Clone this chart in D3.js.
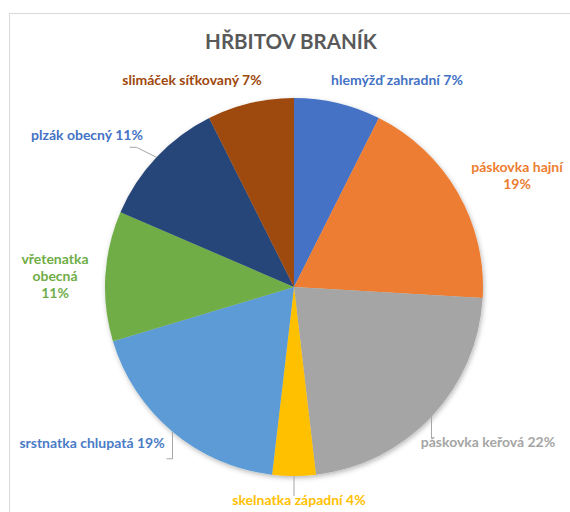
<!DOCTYPE html>
<html>
<head>
<meta charset="utf-8">
<script src="https://cdn.jsdelivr.net/npm/d3@7"></script>
<style>
  html, body { margin: 0; padding: 0; background: #fff; }
  svg { display: block; }
</style>
</head>
<body>
<script>
// Snail species found at the cemetery (counts of finds)
const species = [
  "hlemýžď zahradní",
  "páskovka hajní",
  "páskovka keřová",
  "skelnatka západní",
  "srstnatka chlupatá",
  "vřetenatka obecná",
  "plzák obecný",
  "slimáček síťkovaný"
];
const counts = [2, 5, 6, 1, 5, 3, 3, 2];
const sliceColors = ["#4472C4", "#ED7D31", "#A5A5A5", "#FFC000", "#5B9BD5", "#70AD47", "#264478", "#9E480E"];
const labelColors = ["#4472C4", "#ED7D31", "#A5A5A5", "#FFC000", "#4A7CC6", "#70AD47", "#4472C4", "#9E480E"];

// Label layout: lines of text per label ("{p}" = percentage), anchor offset from pie centre,
// and an optional leader polyline ending at the label.
const labelLines = [
  ["{n} {p}"], ["{n}", "{p}"], ["{n} {p}"], ["{n} {p}"],
  ["{n} {p}"], ["vřetenatka", "obecná", "{p}"], ["{n} {p}"], ["{n} {p}"]
];
const labelOffsets = [[103, -207], [223, -112], [194, 155], [5, 213], [-202, 156], [-239, -11], [-207, -152], [-102, -207]];
const leaderEnds = [null, null, [[0, 22]], [[0, 20]], [[0, 27], [-6, 27]], null, [[-20, -10], [-27, -10]], null];

const W = 570, H = 512;
const cx = 294, cy = 287, R = 189;

const svg = d3.select("body").append("svg").attr("width", W).attr("height", H);

// soft shadow beneath the pie
const defs = svg.append("defs");
const f = defs.append("filter").attr("id", "shadow").attr("x", "-10%").attr("y", "-10%").attr("width", "120%").attr("height", "120%");
f.append("feDropShadow").attr("dx", 1).attr("dy", 2).attr("stdDeviation", 2.5)
  .attr("flood-color", "#000").attr("flood-opacity", 0.28);

// chart area frame
svg.append("rect").attr("x", 9.5).attr("y", 13.5).attr("width", 600).attr("height", 600)
  .attr("fill", "#fff").attr("stroke", "#d9d9d9").attr("stroke-width", 1);

svg.append("text")
  .attr("x", 291).attr("y", 49)
  .attr("text-anchor", "middle")
  .attr("font-family", "Lato, 'Open Sans', sans-serif")
  .attr("font-weight", 700).attr("font-size", 20.5)
  .attr("fill", "#595959")
  .text("HŘBITOV BRANÍK");

const total = d3.sum(counts);
const pie = d3.pie().sort(null).value(d => d)(counts);
const arc = d3.arc().innerRadius(0).outerRadius(R);

const g = svg.append("g").attr("transform", `translate(${cx},${cy})`);
g.append("g").attr("filter", "url(#shadow)")
  .selectAll("path").data(pie).join("path")
  .attr("d", arc)
  .attr("fill", (d, i) => sliceColors[i]);

// leader lines from the slice edge (mid-angle) towards the label
const edge = d => {
  const a = (d.startAngle + d.endAngle) / 2;
  return [R * Math.sin(a), -R * Math.cos(a)];
};
pie.forEach((d, i) => {
  if (!leaderEnds[i]) return;
  const p0 = edge(d);
  const pts = [p0].concat(leaderEnds[i].map(q => [p0[0] + q[0], p0[1] + q[1]]));
  g.append("path")
    .attr("d", d3.line()(pts))
    .attr("fill", "none").attr("stroke", "#A6A6A6").attr("stroke-width", 1);
});

// data labels
const lineH = 17;
pie.forEach((d, i) => {
  const pct = Math.round(d.value / total * 100) + "%";
  const lines = labelLines[i].map(s => s.replace("{n}", species[i]).replace("{p}", pct));
  const [ox, oy] = labelOffsets[i];
  const t = g.append("text")
    .attr("text-anchor", "middle")
    .attr("font-family", "Lato, 'Open Sans', sans-serif")
    .attr("font-weight", 700).attr("font-size", 14)
    .attr("fill", labelColors[i]);
  const y0 = oy - (lines.length - 1) * lineH / 2 + 5;
  lines.forEach((s, k) => {
    t.append("tspan").attr("x", ox).attr("y", y0 + k * lineH).text(s);
  });
});
</script>
</body>
</html>
